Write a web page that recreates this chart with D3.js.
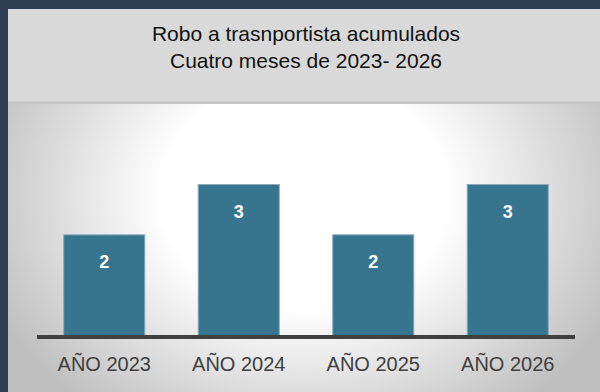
<!DOCTYPE html>
<html>
<head>
<meta charset="utf-8">
<script src="https://cdn.jsdelivr.net/npm/d3@7"></script>
<style>
  html, body { margin: 0; padding: 0; background: #2d3e52; }
  svg { display: block; }
</style>
</head>
<body>
<script>
// Data
const categories = ["AÑO 2023", "AÑO 2024", "AÑO 2025", "AÑO 2026"];
const values = [2, 3, 2, 3];
const titleLines = ["Robo a trasnportista acumulados", "Cuatro meses de 2023- 2026"];

const W = 600, H = 392;
const svg = d3.select("body").append("svg").attr("width", W).attr("height", H);

// Soft radial backdrop for the plot area, brightest just above the bars
const defs = svg.append("defs");
const rg = defs.append("radialGradient").attr("id", "plotBg")
  .attr("gradientUnits", "userSpaceOnUse")
  .attr("cx", 304).attr("cy", 195).attr("r", 340)
  .attr("gradientTransform", "translate(304,195) scale(1,0.8) translate(-304,-195)");
rg.append("stop").attr("offset", "0%").attr("stop-color", "#ffffff");
rg.append("stop").attr("offset", "42%").attr("stop-color", "#ffffff");
rg.append("stop").attr("offset", "100%").attr("stop-color", "#bfbfbf");

// Frame
svg.append("rect").attr("width", W).attr("height", H).attr("fill", "#2d3e52");
// Title band
svg.append("rect").attr("x", 8).attr("y", 9).attr("width", W - 8).attr("height", 93).attr("fill", "#d9d9d9");
svg.append("rect").attr("x", 8).attr("y", 101.5).attr("width", W - 8).attr("height", 2.5).attr("fill", "#c4c4c4");
// Plot area
svg.append("rect").attr("x", 8).attr("y", 104).attr("width", W - 8).attr("height", H - 104).attr("fill", "url(#plotBg)");

// Title
const title = svg.append("text").attr("text-anchor", "middle")
  .attr("font-family", "Liberation Sans, Arial, sans-serif").attr("font-size", 21).attr("fill", "#111");
titleLines.forEach((t, i) => {
  title.append("tspan").attr("x", 306).attr("y", 41 + i * 27).text(t);
});

// Scales
const x = d3.scaleBand().domain(categories).range([37, 575]).paddingInner(0.39).paddingOuter(0.195);
const y = d3.scaleLinear().domain([0, 3]).range([335, 184]);

// Bars
const bars = svg.append("g").selectAll("g").data(values).join("g");
bars.append("rect")
  .attr("x", (d, i) => x(categories[i]) + 0.5)
  .attr("y", d => y(d) + 0.5)
  .attr("width", x.bandwidth() - 1)
  .attr("height", d => y(0) - y(d))
  .attr("fill", "#37758f")
  .attr("stroke", "#86abbd")
  .attr("stroke-width", 1);

bars.append("text")
  .attr("x", (d, i) => x(categories[i]) + x.bandwidth() / 2)
  .attr("y", d => y(d) + 34)
  .attr("text-anchor", "middle")
  .attr("font-family", "Liberation Sans, Arial, sans-serif")
  .attr("font-weight", "bold").attr("font-size", 18).attr("fill", "#ffffff")
  .text(d => d);

// Baseline axis
const axis = svg.append("g").attr("transform", `translate(0,${y(0)})`)
  .call(d3.axisBottom(x).tickSize(0).tickPadding(22));
axis.select(".domain").attr("stroke", "#404040").attr("stroke-width", 4)
  .attr("d", "M37,2H575");
axis.selectAll("text")
  .attr("font-family", "Liberation Sans, Arial, sans-serif")
  .attr("font-size", 20).attr("fill", "#404040");
</script>
</body>
</html>
